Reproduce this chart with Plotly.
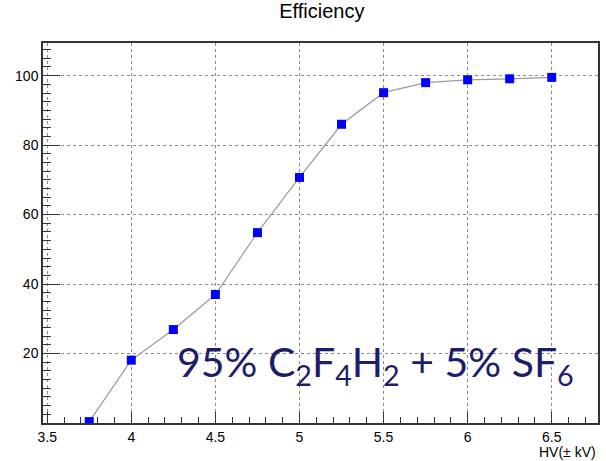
import plotly.graph_objects as go

# High-voltage scan: efficiency (%) versus applied HV (kV)
hv_kv = [3.75, 4.0, 4.25, 4.5, 4.75, 5.0, 5.25, 5.5, 5.75, 6.0, 6.25, 6.5]
efficiency = [0.4, 18.1, 26.9, 37.0, 54.8, 70.7, 86.0, 95.1, 98.0, 98.8, 99.1, 99.5]

x_ticks = [3.5, 4.0, 4.5, 5.0, 5.5, 6.0, 6.5]
x_tick_text = ["3.5", "4", "4.5", "5", "5.5", "6", "6.5"]
y_ticks = [20, 40, 60, 80, 100]
y_tick_text = ["20", "40", "60", "80", "100"]

x_range = [3.475, 6.775]
y_range = [0, 109.4]

AXIS_FONT = dict(family="Liberation Sans, Arial, Helvetica", size=14, color="black")
GRID = dict(showgrid=True, gridcolor="#8a8a8a", gridwidth=1, griddash="dot")

fig = go.Figure()
fig.add_trace(go.Scatter(
    x=hv_kv, y=efficiency,
    mode="lines+markers",
    line=dict(color="#9a9a9a", width=1.2),
    marker=dict(symbol="square", size=9, color="#0000ff", line=dict(width=0)),
    showlegend=False,
))

fig.update_xaxes(
    range=x_range, tickvals=x_ticks, ticktext=x_tick_text,
    ticks="inside", ticklen=11, tickwidth=1, tickcolor="#333",
    minor=dict(ticks="inside", ticklen=6, tickwidth=1, tickcolor="#333",
               dtick=0.1, tick0=3.5, showgrid=False),
    showline=True, linecolor="#333", linewidth=1.5, mirror=True,
    tickfont=AXIS_FONT, zeroline=False, **GRID,
)
fig.update_yaxes(
    range=y_range, tickvals=y_ticks, ticktext=y_tick_text,
    ticks="inside", ticklen=17, tickwidth=1, tickcolor="#333",
    minor=dict(ticks="inside", ticklen=8, tickwidth=1, tickcolor="#333",
               dtick=2.5, tick0=0, showgrid=False),
    showline=True, linecolor="#333", linewidth=1.5, mirror=True,
    tickfont=AXIS_FONT, zeroline=False, **GRID,
)

fig.update_layout(
    width=606, height=461,
    margin=dict(l=43, r=6, t=43, b=38),
    paper_bgcolor="white", plot_bgcolor="white",
    title=dict(text="Efficiency", x=0.531, xanchor="center", y=0.977, yanchor="middle",
               font=dict(family="Liberation Sans, Arial, Helvetica", size=20, color="black")),
    annotations=[
        dict(text="HV(± kV)", xref="paper", yref="paper", x=1.0, y=-0.076,
             xanchor="right", yanchor="middle", showarrow=False,
             font=dict(family="Liberation Sans, Arial, Helvetica", size=14, color="black")),
        dict(text="95% C<sub>2</sub>F<sub>4</sub>H<sub>2</sub> + 5% SF<sub>6</sub>",
             xref="x", yref="y", x=4.262, y=16.9, xanchor="left", yanchor="middle",
             showarrow=False,
             font=dict(family="Lato, Calibri, sans-serif", size=41, color="#1d1d6b")),
    ],
)

fig.write_html("out.html")
